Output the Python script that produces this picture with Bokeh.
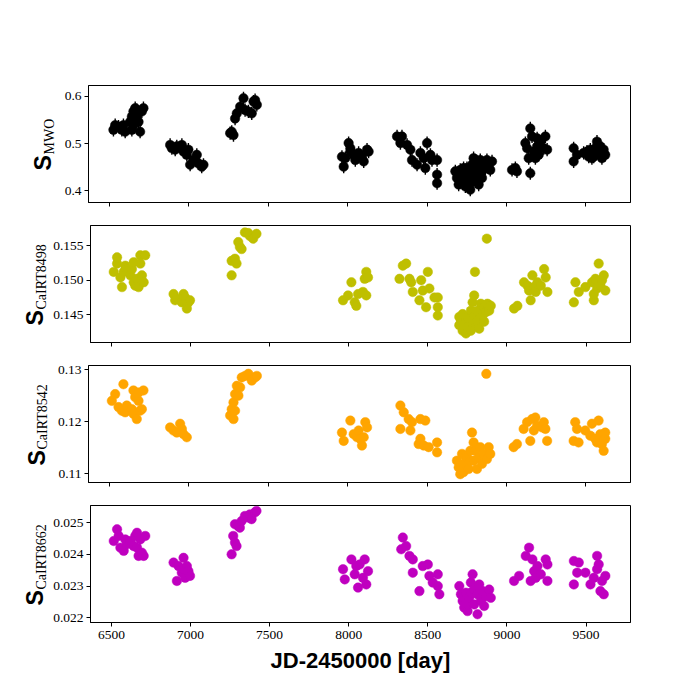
import math
from bokeh.plotting import figure
from bokeh.layouts import column, row
from bokeh.models import Range1d, FixedTicker, PrintfTickFormatter, ColumnDataSource
from bokeh.core.properties import value
from bokeh.embed import file_html
from bokeh.resources import INLINE

# ---------------- data ----------------
x_ticks = [6500, 7000, 7500, 8000, 8500, 9000, 9500]
x_label = "JD-2450000 [day]"

mwo_day = [6525, 6536, 6557, 6578, 6599, 6588, 6630, 6641, 6651, 6662, 6672, 6683, 6693, 6704, 6714, 6641, 6651, 6672,
           6882, 6893, 6914, 6924, 6956, 6966, 6987, 6997, 7008, 7029, 7050, 7060, 7081, 7092,
           7260, 7270, 7281, 7291, 7302, 7323, 7344, 7354, 7375, 7396, 7407, 7417, 7428,
           7964, 7975, 7985, 8006, 8017, 8017, 8038, 8048, 8069, 8090, 8101, 8122, 8132,
           8311, 8332, 8342, 8374, 8395, 8405, 8437, 8458, 8479, 8489, 8500, 8521, 8531, 8563, 8563, 8563,
           8678, 8688, 8699, 8709, 8720, 8730, 8741, 8751, 8751, 8762, 8772, 8772, 8783, 8783, 8793, 8793, 8804,
           8814, 8814, 8825, 8835, 8835, 8846, 8856, 8867, 8877, 8888, 8898, 8909, 8730, 8709, 8825, 8846,
           9035, 9056, 9066, 9119, 9130, 9140, 9150, 9150, 9161, 9172, 9182, 9193, 9193, 9203, 9214, 9235, 9245, 9256,
           9423, 9423, 9444, 9486, 9507, 9518, 9528, 9538, 9549, 9559, 9570, 9580, 9591, 9601, 9612, 9622]
mwo_s = [0.529, 0.539, 0.536, 0.529, 0.525, 0.539, 0.546, 0.557, 0.568, 0.575, 0.571, 0.546, 0.525, 0.568, 0.575, 0.529, 0.539, 0.557,
         0.497, 0.490, 0.487, 0.494, 0.497, 0.483, 0.476, 0.487, 0.455, 0.465, 0.476, 0.458, 0.451, 0.455,
         0.522, 0.525, 0.518, 0.553, 0.564, 0.578, 0.596, 0.571, 0.568, 0.564, 0.589, 0.592, 0.582,
         0.472, 0.451, 0.469, 0.501, 0.483, 0.490, 0.476, 0.465, 0.480, 0.472, 0.462, 0.487, 0.483,
         0.515, 0.501, 0.515, 0.497, 0.487, 0.465, 0.455, 0.480, 0.469, 0.448, 0.501, 0.476, 0.465, 0.465, 0.434, 0.416,
         0.441, 0.427, 0.413, 0.444, 0.434, 0.420, 0.409, 0.448, 0.427, 0.437, 0.402, 0.416, 0.455, 0.430, 0.469, 0.441, 0.420,
         0.462, 0.448, 0.434, 0.465, 0.451, 0.441, 0.458, 0.448, 0.465, 0.455, 0.444, 0.462, 0.448, 0.420, 0.413, 0.427,
         0.444, 0.448, 0.441, 0.501, 0.490, 0.469, 0.532, 0.437, 0.515, 0.483, 0.469, 0.494, 0.511, 0.476, 0.504, 0.490, 0.515, 0.487,
         0.490, 0.462, 0.476, 0.480, 0.483, 0.472, 0.487, 0.469, 0.472, 0.490, 0.504, 0.480, 0.494, 0.469, 0.487, 0.476]
mwo_err = 0.014

irt8498_day = [6515, 6536, 6536, 6557, 6567, 6578, 6588, 6599, 6620, 6630, 6641, 6641, 6651, 6662, 6672, 6683, 6683, 6693, 6704, 6714,
               6893, 6903, 6924, 6945, 6956, 6966, 6977, 6977, 6987, 6997,
               7260, 7260, 7281, 7291, 7302, 7312, 7323, 7344, 7365, 7375, 7396, 7417,
               7964, 7996, 8017, 8038, 8048, 8059, 8090, 8101, 8111, 8111, 8122,
               8321, 8342, 8363, 8384, 8395, 8405, 8447, 8458, 8468, 8489, 8500, 8510, 8542, 8563, 8563, 8563,
               8699, 8699, 8709, 8720, 8720, 8730, 8741, 8751, 8751, 8762, 8772, 8772, 8783, 8783, 8793, 8793, 8798,
               8804, 8814, 8814, 8825, 8835, 8846, 8856, 8856, 8867, 8873, 8877, 8888, 8898,
               9045, 9066, 9108, 9130, 9140, 9150, 9161, 9172, 9182, 9193, 9214, 9235, 9245, 9256,
               9423, 9433, 9454, 9496, 9538, 9549, 9549, 9559, 9570, 9580, 9591, 9601, 9612, 9622]
irt8498_s = [0.1512, 0.1524, 0.1533, 0.1504, 0.1490, 0.1512, 0.1521, 0.1516, 0.1507, 0.1516, 0.1526, 0.1497, 0.1492, 0.1502, 0.1490, 0.1536, 0.1524, 0.1507, 0.1497, 0.1536,
             0.1480, 0.1471, 0.1473, 0.1468, 0.1480, 0.1475, 0.1466, 0.1459, 0.1468, 0.1471,
             0.1507, 0.1528, 0.1531, 0.1524, 0.1555, 0.1548, 0.1545, 0.1569, 0.1568, 0.1564, 0.1560, 0.1567,
             0.1471, 0.1478, 0.1497, 0.1468, 0.1463, 0.1480, 0.1483, 0.1502, 0.1512, 0.1478, 0.1504,
             0.1502, 0.1521, 0.1524, 0.1502, 0.1497, 0.1483, 0.1471, 0.1500, 0.1485, 0.1461, 0.1512, 0.1488, 0.1475, 0.1475, 0.1461, 0.1449,
             0.1447, 0.1435, 0.1442, 0.1427, 0.1451, 0.1437, 0.1423, 0.1432, 0.1447, 0.1444, 0.1427, 0.1456, 0.1468, 0.1437, 0.1478, 0.1447, 0.1512,
             0.1435, 0.1456, 0.1442, 0.1430, 0.1466, 0.1449, 0.1461, 0.1440, 0.1454, 0.1560, 0.1466, 0.1456, 0.1463,
             0.1459, 0.1463, 0.1497, 0.1492, 0.1485, 0.1471, 0.1507, 0.1490, 0.1483, 0.1497, 0.1492, 0.1516, 0.1504, 0.1483,
             0.1468, 0.1497, 0.1483, 0.1490, 0.1497, 0.1471, 0.1480, 0.1502, 0.1488, 0.1524, 0.1492, 0.1500, 0.1507, 0.1485]

irt8542_day = [6515, 6536, 6557, 6578, 6588, 6599, 6609, 6641, 6651, 6651, 6662, 6672, 6683, 6683, 6693, 6704, 6714,
               6882, 6903, 6924, 6945, 6956, 6966, 6987,
               7260, 7270, 7281, 7281, 7291, 7291, 7302, 7312, 7323, 7333, 7354, 7375, 7396, 7417, 7428,
               7964, 7975, 8017, 8038, 8059, 8069, 8080, 8090, 8101, 8111, 8122,
               8332, 8332, 8353, 8384, 8395, 8405, 8447, 8458, 8458, 8479, 8489, 8510, 8563, 8563,
               8688, 8699, 8709, 8720, 8730, 8730, 8741, 8751, 8762, 8772, 8772, 8783, 8793, 8793, 8804, 8814,
               8825, 8835, 8846, 8856, 8873, 8877, 8888, 8898,
               9045, 9066, 9108, 9130, 9150, 9161, 9172, 9182, 9193, 9224, 9235, 9245, 9256,
               9423, 9433, 9444, 9454, 9496, 9528, 9538, 9559, 9570, 9580, 9591, 9601, 9612, 9622, 9622]
irt8542_s = [0.1240, 0.1253, 0.1228, 0.1221, 0.1272, 0.1218, 0.1231, 0.1224, 0.1260, 0.1215, 0.1247, 0.1205, 0.1240, 0.1256, 0.1221, 0.1224, 0.1260,
             0.1189, 0.1183, 0.1179, 0.1196, 0.1186, 0.1176, 0.1170,
             0.1212, 0.1224, 0.1205, 0.1237, 0.1221, 0.1253, 0.1269, 0.1250, 0.1266, 0.1285, 0.1288, 0.1292, 0.1279, 0.1285, 0.1288,
             0.1179, 0.1163, 0.1202, 0.1176, 0.1170, 0.1183, 0.1167, 0.1154, 0.1170, 0.1199, 0.1189,
             0.1231, 0.1186, 0.1218, 0.1205, 0.1183, 0.1199, 0.1157, 0.1205, 0.1167, 0.1154, 0.1202, 0.1151, 0.1160, 0.1141,
             0.1125, 0.1112, 0.1099, 0.1138, 0.1119, 0.1103, 0.1134, 0.1131, 0.1109, 0.1144, 0.1125, 0.1179, 0.1160, 0.1125, 0.1144, 0.1109,
             0.1131, 0.1151, 0.1119, 0.1138, 0.1292, 0.1128, 0.1151, 0.1138,
             0.1151, 0.1157, 0.1186, 0.1199, 0.1163, 0.1205, 0.1183, 0.1208, 0.1192, 0.1189, 0.1199, 0.1186, 0.1163,
             0.1163, 0.1199, 0.1186, 0.1160, 0.1183, 0.1173, 0.1196, 0.1167, 0.1160, 0.1202, 0.1176, 0.1157, 0.1144, 0.1167, 0.1179]

irt8662_day = [6515, 6536, 6546, 6557, 6578, 6588, 6599, 6620, 6641, 6651, 6662, 6662, 6672, 6683, 6693, 6704, 6714,
               6893, 6914, 6924, 6945, 6956, 6956, 6966, 6977, 6987, 6997,
               7260, 7270, 7281, 7281, 7291, 7302, 7312, 7323, 7344, 7365, 7375, 7386, 7407, 7417,
               7964, 7975, 8017, 8038, 8048, 8059, 8069, 8090, 8101, 8111, 8122,
               8332, 8342, 8363, 8384, 8405, 8405, 8447, 8468, 8500, 8510, 8531, 8563, 8563, 8573,
               8699, 8709, 8720, 8730, 8730, 8741, 8751, 8751, 8762, 8772, 8772, 8783, 8793, 8793, 8814, 8814,
               8825, 8835, 8846, 8856, 8867, 8888, 8898,
               9045, 9077, 9119, 9140, 9150, 9161, 9172, 9182, 9193, 9214, 9245, 9256, 9256,
               9423, 9423, 9444, 9454, 9496, 9528, 9549, 9570, 9570, 9580, 9591, 9601, 9612, 9622]
irt8662_s = [0.02442, 0.02479, 0.02458, 0.02421, 0.02411, 0.02447, 0.02432, 0.02442, 0.02426, 0.02458, 0.02468, 0.02421, 0.02395, 0.02447, 0.02405, 0.02395, 0.02458,
             0.02374, 0.02316, 0.02363, 0.02342, 0.02389, 0.02353, 0.02326, 0.02363, 0.02347, 0.02332,
             0.02400, 0.02458, 0.02437, 0.02495, 0.02426, 0.02489, 0.02484, 0.02505, 0.02521, 0.02516, 0.02526, 0.02511, 0.02532, 0.02537,
             0.02353, 0.02321, 0.02384, 0.02337, 0.02363, 0.02295, 0.02368, 0.02326, 0.02384, 0.02305, 0.02347,
             0.02416, 0.02453, 0.02426, 0.02395, 0.02384, 0.02342, 0.02284, 0.02363, 0.02368, 0.02332, 0.02311, 0.02337, 0.02300, 0.02274,
             0.02300, 0.02274, 0.02253, 0.02232, 0.02263, 0.02279, 0.02221, 0.02242, 0.02263, 0.02311, 0.02279, 0.02337, 0.02289, 0.02242, 0.02211, 0.02274,
             0.02305, 0.02253, 0.02284, 0.02237, 0.02268, 0.02289, 0.02263,
             0.02316, 0.02332, 0.02395, 0.02421, 0.02316, 0.02384, 0.02347, 0.02326, 0.02363, 0.02337, 0.02384, 0.02368, 0.02316,
             0.02379, 0.02305, 0.02342, 0.02374, 0.02342, 0.02305, 0.02326, 0.02395, 0.02353, 0.02368, 0.02284, 0.02316, 0.02274, 0.02332]

mwo_ticks = [0.4, 0.5, 0.6]
irt8498_ticks = [0.145, 0.150, 0.155]
irt8542_ticks = [0.11, 0.12, 0.13]
irt8662_ticks = [0.022, 0.023, 0.024, 0.025]

subscripts = ["MWO", "CaIRT8498", "CaIRT8542", "CaIRT8662"]

# ---------------- styling / layout ----------------
SERIF = "Liberation Serif"
SANS = "Liberation Sans"
X_RANGE = (6368, 9781)
W = 640          # total width of a row (label strip + panel)
LEFT = 88        # distance from row left edge to frame left
RIGHT = 10
FRAME_H = 117


def label_strip(lw, top, bottom, sub, sx, subx, y0):
    """Narrow figure; its frame matches the panel frame vertically and its
    data units are pixels measured from the frame bottom-left."""
    f = figure(width=lw, height=top + FRAME_H + bottom, output_backend="svg", toolbar_location=None,
               x_axis_location=None, y_axis_location=None,
               x_range=Range1d(0, lw), y_range=Range1d(0, FRAME_H),
               min_border_left=0, min_border_right=0,
               min_border_top=top, min_border_bottom=bottom)
    f.grid.visible = False
    f.outline_line_color = None
    f.background_fill_color = "white"
    f.border_fill_color = "white"
    f.text(x=[sx], y=[y0], text=["S"], angle=math.pi / 2,
           text_font=value(SANS), text_font_style="bold", text_font_size="23px",
           text_align="left", text_baseline="alphabetic", text_color="black")
    f.text(x=[subx], y=[y0 + 16], text=[sub], angle=math.pi / 2,
           text_font=value(SERIF), text_font_size="14px",
           text_align="left", text_baseline="alphabetic", text_color="black")
    return f


def make_panel(days, vals, color, yr, yticks, fmt, sub, lab, top, bottom, last=False, err=None):
    lw, sx, subx, y0 = lab
    h = top + FRAME_H + bottom
    p = figure(width=W - lw, height=h, output_backend="svg", toolbar_location=None,
               x_range=Range1d(*X_RANGE), y_range=Range1d(*yr),
               min_border_left=LEFT - lw, min_border_right=RIGHT,
               min_border_top=top, min_border_bottom=bottom)
    p.grid.visible = False
    p.outline_line_color = "black"
    p.outline_line_width = 1
    p.background_fill_color = "white"
    p.border_fill_color = "white"

    for ax in (p.xaxis[0], p.yaxis[0]):
        ax.axis_line_color = "black"
        ax.axis_line_width = 1
        ax.major_tick_line_color = "black"
        ax.major_tick_line_width = 1
        ax.major_tick_in = 0
        ax.major_tick_out = 4
        ax.minor_tick_line_color = None
        ax.major_label_text_font = SERIF
        ax.major_label_text_font_size = "13.5px"
        ax.major_label_text_color = "black"

    p.xaxis.ticker = FixedTicker(ticks=x_ticks)
    p.yaxis.ticker = FixedTicker(ticks=yticks)
    p.yaxis.formatter = PrintfTickFormatter(format=fmt)
    p.yaxis.major_label_standoff = 3
    p.xaxis.major_label_standoff = 4

    if last:
        p.xaxis.axis_label = x_label
        p.xaxis.axis_label_text_font = SANS
        p.xaxis.axis_label_text_font_style = "bold"
        p.xaxis.axis_label_text_font_size = "22px"
        p.xaxis.axis_label_text_color = "black"
        p.xaxis.axis_label_standoff = 6
    else:
        p.xaxis.major_label_overrides = {t: "" for t in x_ticks}

    src = ColumnDataSource(dict(x=days, y=vals))
    if err is not None:
        lo = [v - err for v in vals]
        hi = [v + err for v in vals]
        p.segment(x0=days, y0=lo, x1=days, y1=hi, line_color=color, line_width=1.4)
    p.scatter("x", "y", source=src, size=9.5, fill_color=color, line_color=color, line_width=0.5)

    strip = label_strip(lw, top, bottom, sub, sx, subx, y0)
    return row(strip, p, spacing=0)


r1 = make_panel(mwo_day, mwo_s, "black", (0.375, 0.623), mwo_ticks, "%.1f", subscripts[0],
                (58, 42, 49, 32), 85, 11, err=mwo_err)
r2 = make_panel(irt8498_day, irt8498_s, "#bfbf00", (0.1410, 0.1579), irt8498_ticks, "%.3f", subscripts[1],
                (50, 34, 41, 17), 12, 11)
r3 = make_panel(irt8542_day, irt8542_s, "#ffa500", (0.1083, 0.1308), irt8542_ticks, "%.2f", subscripts[2],
                (53, 36, 42, 17), 12, 11)
r4 = make_panel(irt8662_day, irt8662_s, "#bf00bf", (0.02185, 0.02554), irt8662_ticks, "%.3f", subscripts[3],
                (50, 34, 41, 17), 12, 62, last=True)

layout = column(r1, r2, r3, r4, spacing=0)
open("out.html", "w").write(file_html(layout, INLINE))
